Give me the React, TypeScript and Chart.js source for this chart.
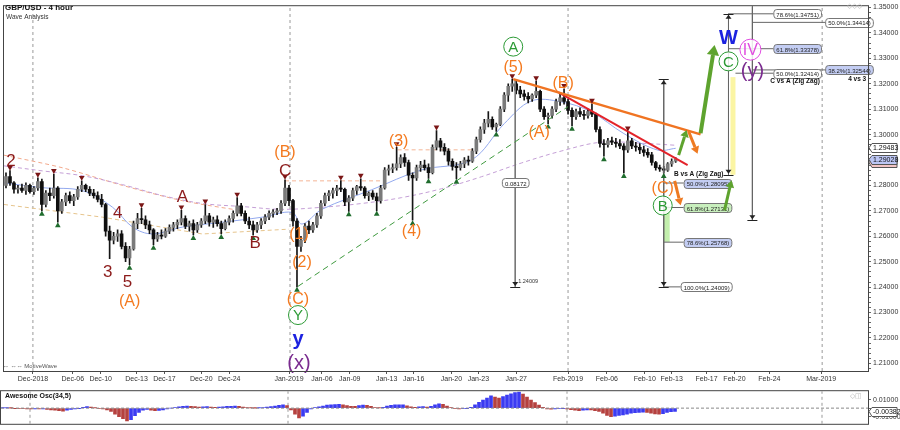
import React, { useEffect, useRef } from 'react';
import { Chart, registerables } from 'chart.js';
Chart.register(...registerables);

const FONT = 'Arial, "Liberation Sans", Helvetica, sans-serif';

// ---------- DATA (x unit = one 8-hour candle; ticks/dates placed on the same axis) ----------
// [open, high, low, close]
const candles: number[][] = [
  [1.2800,1.2850,1.2790,1.2835],[1.2835,1.2858,1.2800,1.2810],[1.2810,1.2815,1.2770,1.2785],[1.2785,1.2800,1.2770,1.2790],
  [1.2790,1.2805,1.2772,1.2780],[1.2780,1.2810,1.2765,1.2800],[1.2800,1.2805,1.2770,1.2775],[1.2775,1.2795,1.2765,1.2790],
  [1.2790,1.2830,1.2780,1.2815],[1.2815,1.2825,1.2700,1.2725],[1.2725,1.2780,1.2715,1.2770],[1.2770,1.2790,1.2740,1.2760],
  [1.2760,1.2845,1.2750,1.2790],[1.2790,1.2795,1.2655,1.2700],[1.2700,1.2745,1.2690,1.2735],[1.2735,1.2770,1.2720,1.2760],
  [1.2760,1.2775,1.2730,1.2740],[1.2740,1.2765,1.2720,1.2755],[1.2755,1.2795,1.2745,1.2785],[1.2785,1.2818,1.2775,1.2800],
  [1.2800,1.2805,1.2775,1.2785],[1.2785,1.2795,1.2760,1.2770],[1.2770,1.2785,1.2750,1.2760],[1.2760,1.2775,1.2735,1.2745],
  [1.2745,1.2765,1.2715,1.2725],[1.2725,1.2730,1.2600,1.2620],[1.2620,1.2640,1.2512,1.2585],[1.2585,1.2615,1.2570,1.2600],
  [1.2600,1.2625,1.2580,1.2610],[1.2610,1.2622,1.2550,1.2560],[1.2560,1.2575,1.2500,1.2515],[1.2515,1.2560,1.2488,1.2550],
  [1.2550,1.2660,1.2545,1.2650],[1.2650,1.2690,1.2630,1.2670],[1.2670,1.2710,1.2650,1.2665],[1.2665,1.2680,1.2630,1.2645],
  [1.2645,1.2660,1.2610,1.2625],[1.2625,1.2630,1.2566,1.2590],[1.2590,1.2615,1.2580,1.2605],[1.2605,1.2625,1.2590,1.2600],
  [1.2600,1.2630,1.2595,1.2620],[1.2620,1.2645,1.2610,1.2635],[1.2635,1.2655,1.2620,1.2645],[1.2645,1.2665,1.2630,1.2655],
  [1.2655,1.2702,1.2645,1.2670],[1.2670,1.2680,1.2630,1.2640],[1.2640,1.2660,1.2620,1.2650],[1.2650,1.2665,1.2605,1.2625],
  [1.2625,1.2655,1.2615,1.2645],[1.2645,1.2670,1.2635,1.2660],[1.2660,1.2725,1.2650,1.2680],[1.2680,1.2690,1.2640,1.2655],
  [1.2655,1.2675,1.2635,1.2665],[1.2665,1.2680,1.2640,1.2650],[1.2650,1.2660,1.2609,1.2630],[1.2630,1.2665,1.2625,1.2655],
  [1.2655,1.2680,1.2645,1.2670],[1.2670,1.2700,1.2655,1.2690],[1.2690,1.2752,1.2680,1.2720],[1.2720,1.2730,1.2680,1.2690],
  [1.2690,1.2700,1.2650,1.2660],[1.2660,1.2675,1.2630,1.2645],[1.2645,1.2660,1.2605,1.2625],[1.2625,1.2655,1.2615,1.2645],
  [1.2645,1.2670,1.2630,1.2660],[1.2660,1.2685,1.2650,1.2675],[1.2675,1.2700,1.2665,1.2690],[1.2690,1.2705,1.2675,1.2695],
  [1.2695,1.2710,1.2685,1.2700],[1.2700,1.2740,1.2690,1.2730],[1.2730,1.2822,1.2720,1.2790],[1.2790,1.2800,1.2720,1.2740],
  [1.2740,1.2745,1.2640,1.2660],[1.2660,1.2670,1.2401,1.2560],[1.2560,1.2600,1.2540,1.2585],[1.2585,1.2650,1.2575,1.2640],
  [1.2640,1.2660,1.2610,1.2625],[1.2625,1.2655,1.2615,1.2645],[1.2645,1.2690,1.2635,1.2680],[1.2680,1.2740,1.2670,1.2730],
  [1.2730,1.2770,1.2720,1.2760],[1.2760,1.2780,1.2740,1.2770],[1.2770,1.2790,1.2750,1.2780],[1.2780,1.2800,1.2760,1.2790],
  [1.2790,1.2819,1.2775,1.2785],[1.2785,1.2790,1.2720,1.2735],[1.2735,1.2760,1.2698,1.2750],[1.2750,1.2790,1.2740,1.2780],
  [1.2780,1.2800,1.2765,1.2795],[1.2795,1.2826,1.2780,1.2790],[1.2790,1.2795,1.2750,1.2760],[1.2760,1.2775,1.2740,1.2770],
  [1.2770,1.2780,1.2745,1.2755],[1.2755,1.2770,1.2700,1.2740],[1.2740,1.2800,1.2730,1.2790],[1.2790,1.2870,1.2785,1.2860],
  [1.2860,1.2880,1.2840,1.2865],[1.2865,1.2885,1.2850,1.2870],[1.2870,1.2950,1.2860,1.2885],[1.2885,1.2920,1.2870,1.2910],
  [1.2910,1.2925,1.2875,1.2890],[1.2890,1.2900,1.2820,1.2840],[1.2840,1.2850,1.2663,1.2830],[1.2830,1.2880,1.2820,1.2870],
  [1.2870,1.2895,1.2855,1.2880],[1.2880,1.2900,1.2860,1.2870],[1.2870,1.2885,1.2828,1.2850],[1.2850,1.2960,1.2845,1.2950],
  [1.2950,1.3016,1.2940,1.2975],[1.2975,1.2985,1.2935,1.2950],[1.2950,1.2965,1.2920,1.2935],[1.2935,1.2945,1.2880,1.2895],
  [1.2895,1.2905,1.2860,1.2875],[1.2875,1.2890,1.2826,1.2870],[1.2870,1.2895,1.2860,1.2885],[1.2885,1.2910,1.2870,1.2900],
  [1.2900,1.2915,1.2880,1.2895],[1.2895,1.2945,1.2890,1.2935],[1.2935,1.2990,1.2925,1.2980],[1.2980,1.3030,1.2970,1.3020],
  [1.3020,1.3060,1.3005,1.3045],[1.3045,1.3090,1.3030,1.3060],[1.3060,1.3070,1.3020,1.3030],[1.3030,1.3045,1.3012,1.3040],
  [1.3040,1.3110,1.3035,1.3100],[1.3100,1.3165,1.3090,1.3155],[1.3155,1.3200,1.3130,1.3190],[1.3190,1.3218,1.3170,1.3200],
  [1.3200,1.3210,1.3160,1.3175],[1.3175,1.3190,1.3145,1.3160],[1.3160,1.3175,1.3135,1.3150],[1.3150,1.3165,1.3125,1.3140],
  [1.3140,1.3160,1.3130,1.3155],[1.3155,1.3210,1.3145,1.3170],[1.3170,1.3175,1.3090,1.3100],[1.3100,1.3110,1.3060,1.3070],
  [1.3070,1.3085,1.3043,1.3075],[1.3075,1.3110,1.3065,1.3100],[1.3100,1.3140,1.3090,1.3130],[1.3130,1.3160,1.3115,1.3145],
  [1.3145,1.3179,1.3120,1.3130],[1.3130,1.3140,1.3080,1.3095],[1.3095,1.3105,1.3035,1.3070],[1.3070,1.3100,1.3060,1.3090],
  [1.3090,1.3105,1.3070,1.3080],[1.3080,1.3095,1.3060,1.3075],[1.3075,1.3100,1.3065,1.3090],[1.3090,1.3121,1.3070,1.3080],
  [1.3080,1.3085,1.3010,1.3020],[1.3020,1.3030,1.2950,1.2965],[1.2965,1.2980,1.2915,1.2960],[1.2960,1.2985,1.2950,1.2975],
  [1.2975,1.2990,1.2960,1.2970],[1.2970,1.2985,1.2950,1.2965],[1.2965,1.2980,1.2945,1.2955],[1.2955,1.2965,1.2849,1.2940],
  [1.2940,1.3012,1.2930,1.2975],[1.2975,1.2985,1.2945,1.2955],[1.2955,1.2970,1.2935,1.2950],[1.2950,1.2965,1.2925,1.2940],
  [1.2940,1.2955,1.2915,1.2930],[1.2930,1.2945,1.2910,1.2920],[1.2920,1.2930,1.2880,1.2890],[1.2890,1.2895,1.2860,1.2870],
  [1.2870,1.2880,1.2855,1.2865],[1.2865,1.2875,1.2849,1.2860],[1.2860,1.2890,1.2855,1.2885],[1.2885,1.2905,1.2875,1.2895],
  [1.2895,1.2910,1.2890,1.2903],
];

// Awesome Oscillator (34,5), one value per candle
const awesomeOsc: number[] = [
  0.0003,0.0003,0.0001,-0.0003,-0.0005,-0.0006,-0.0008,-0.0010,-0.0008,-0.0010,-0.0009,-0.0015,-0.0020,-0.0025,-0.0030,-0.0035,
  -0.0025,-0.0015,-0.0008,-0.0002,0.0010,0.0018,0.0012,0.0002,-0.0005,-0.0008,-0.0020,-0.0040,-0.0070,-0.0100,-0.0125,-0.0150,
  -0.0135,-0.0090,-0.0050,-0.0025,-0.0015,-0.0025,-0.0030,-0.0028,-0.0020,-0.0010,0.0000,0.0008,0.0015,0.0022,0.0025,0.0022,
  0.0018,0.0012,0.0015,0.0018,0.0012,0.0010,0.0012,0.0016,0.0020,0.0022,0.0024,0.0020,0.0012,0.0006,0.0002,0.0001,
  0.0003,0.0008,0.0012,0.0018,0.0025,0.0032,0.0040,0.0030,-0.0020,-0.0070,-0.0115,-0.0095,-0.0050,-0.0010,0.0005,0.0015,
  0.0025,0.0035,0.0040,0.0043,0.0045,0.0040,0.0030,0.0022,0.0020,0.0030,0.0035,0.0033,0.0020,0.0008,0.0002,0.0010,
  0.0025,0.0032,0.0038,0.0040,0.0040,0.0028,0.0015,0.0010,0.0015,0.0018,0.0013,0.0020,0.0040,0.0050,0.0045,0.0025,
  0.0005,-0.0005,-0.0008,-0.0006,-0.0003,0.0010,0.0040,0.0070,0.0095,0.0120,0.0145,0.0130,0.0120,0.0135,0.0155,0.0170,
  0.0185,0.0190,0.0165,0.0130,0.0095,0.0065,0.0035,0.0010,-0.0008,-0.0012,-0.0010,-0.0006,-0.0002,-0.0010,-0.0018,-0.0025,
  -0.0030,-0.0025,-0.0020,-0.0022,-0.0030,-0.0040,-0.0060,-0.0085,-0.0100,-0.0095,-0.0085,-0.0080,-0.0070,-0.0060,-0.0055,-0.0050,
  -0.0048,-0.0052,-0.0060,-0.0068,-0.0072,-0.0065,-0.0050,-0.0042,-0.0038,
];

const tickPos = [7.25,17.25,24.25,33.25,40.25,49.5,56.5,71.5,79.75,86.75,96,102.75,112.25,119,128.5,141.5,151.25,160.75,167.5,176.25,183.25,192,205];
const tickLabels = ['Dec-2018','Dec-06','Dec-10','Dec-13','Dec-17','Dec-20','Dec-24','Jan-2019','Jan-06','Jan-09','Jan-13','Jan-16','Jan-20','Jan-23','Jan-27','Feb-2019','Feb-06','Feb-10','Feb-13','Feb-17','Feb-20','Feb-24','Mar-2019'];
const monthPos = [7.25, 71.75, 141.5, 205.25];

const peakIdx = [1,8,12,19,34,44,50,58,70,84,89,98,108,127,133,140,147,156];
const troughIdx = [9,13,31,37,47,54,62,73,86,93,102,106,113,123,136,142,150,155,165];

// moving averages / channel lines: [x, price]
const maSlow = [[0,1.2877],[9.75,1.2857],[19.75,1.2838],[29.75,1.2803],[39.75,1.2760],[49.75,1.2729],[59.75,1.2717],[69.75,1.2706],[79.75,1.2714],[89.75,1.2729],[99.75,1.2752],[109.75,1.2787],[119.75,1.2834],[129.75,1.2888],[139.75,1.2935],[149.75,1.2970],[159.75,1.2966],[168.5,1.2958]];
const maFast = [[0,1.2810],[9.75,1.2791],[19.75,1.2779],[27.25,1.2714],[32.25,1.2636],[37.25,1.2609],[44.75,1.2636],[54.75,1.2655],[64.75,1.2675],[72.25,1.2694],[74.75,1.2648],[79.75,1.2706],[92.25,1.2783],[104.75,1.2861],[117.25,1.2900],[125.5,1.3043],[132.25,1.3132],[139.75,1.3129],[147.25,1.3090],[155.5,1.3004],[164,1.2939],[168.5,1.2946]];
const maMid = [[0,1.2919],[14.75,1.2869],[29.75,1.2800],[44.75,1.2740],[59.75,1.2700]];
const channelLow = [[0,1.2725],[24.75,1.2675],[49.75,1.2609],[71.5,1.2628]];
const levelLines = [[70.5,95,1.2818],[98.75,117.5,1.2940]];
const greenTrend = [[73.75,1.2403],[141.5,1.3110]];
const orangeTrend = [[127.75,1.3218],[174.75,1.3001]];
const redTrend = [[139,1.3167],[171.5,1.2880]];

// Fibonacci studies
const waveAHigh = 1.32181, waveCLow = 1.24009;
const fibBA = [['50.0%', 1.28095, 'b'], ['61.8%', 1.27131, 'g'], ['78.6%', 1.25768, 'b'], ['100.0%', 1.24009, 'w']];
const fibCA = [['78.6%', 1.34751, 'w'], ['61.8%', 1.33378, 'b'], ['50.0%', 1.32414, 'w']];
const fib43 = [['50.0%', 1.34414, 'w'], ['38.2%', 1.32544, 'b']];
const measureLabel = '0.08172';

// wave labels: [text, x, price, kind]
const waveLabels: [string, number, number, string][] = [
  ['2',1.75,1.2900,'red'],['4',28.5,1.2694,'red'],['3',26,1.2462,'red'],['5',31,1.2423,'red'],['(A)',31.5,1.2345,'orange'],
  ['A',44.75,1.2756,'red'],['B',63,1.2578,'red'],['C',70.5,1.2861,'red'],['(B)',70.5,1.2935,'orange'],
  ['(1)',74,1.2612,'orange'],['(2)',74.75,1.2500,'orange'],['(C)',73.75,1.2356,'orange'],['Y',73.75,1.2290,'green'],
  ['y',73.75,1.2197,'blue'],['(x)',74,1.2104,'purple'],['(3)',99,1.2978,'orange'],['(4)',102.25,1.2624,'orange'],
  ['A',127.75,1.3346,'green'],['(5)',127.75,1.3268,'orange'],['(A)',134.25,1.3012,'orange'],['(B)',140.25,1.3206,'orange'],
  ['(C)',165.25,1.2791,'orange'],['B',165.25,1.2721,'green'],['W',181.75,1.3381,'blue'],['C',181.75,1.3288,'green'],
  ['IV',187.25,1.3334,'magenta'],['(y)',187.75,1.3253,'purple'],
];
// projection arrows: [x1, p1, x2, p2, kind]
const arrows: [number, number, number, number, string][] = [
  [168.25,1.2818,169.75,1.2722,'o'],[169.25,1.2919,171.25,1.3018,'g'],[171.75,1.3012,174,1.2925,'o'],
  [174.75,1.3005,178.25,1.3352,'G'],[180.75,1.2702,182.5,1.2820,'g'],
];

const Y_MIN = 1.2070, Y_MAX = 1.3505, X_MIN = 0, X_MAX = 216.75;
const O_MIN = -0.0185, O_MAX = 0.0200;
const lastPrice = 1.29028, tagPrice = 1.29483, lastOsc = -0.00382;

// ---------- helpers ----------
const seg = (pts: number[][], color: string, width: number, dash: number[] = [], order = 3, tension = 0) => ({
  type: 'line', data: pts.map(([x, y]) => ({ x, y })), borderColor: color, borderWidth: width, borderDash: dash,
  pointRadius: 0, fill: false, tension, order,
});

function rr(ctx: any, x: number, y: number, w: number, h: number, r: number) {
  ctx.beginPath(); ctx.moveTo(x + r, y); ctx.arcTo(x + w, y, x + w, y + h, r); ctx.arcTo(x + w, y + h, x, y + h, r);
  ctx.arcTo(x, y + h, x, y, r); ctx.arcTo(x, y, x + w, y, r); ctx.closePath();
}
const BG: any = { b: '#c3cdf3', g: '#c8efbd', w: '#ffffff' };
function box(ctx: any, text: string, x: number, y: number, bg: string, align = 'left') {
  ctx.font = `6px ${FONT}`;
  const w = ctx.measureText(text).width + 5;
  const x0 = align === 'center' ? x - w / 2 : x;
  rr(ctx, x0 + 0.5, Math.round(y - 4.5) + 0.5, w, 9, 3);
  ctx.fillStyle = BG[bg] || bg; ctx.fill(); ctx.strokeStyle = '#777'; ctx.lineWidth = 1; ctx.stroke();
  ctx.fillStyle = '#222'; ctx.textAlign = 'left'; ctx.textBaseline = 'middle'; ctx.fillText(text, x0 + 3, Math.round(y) + 1);
}
function arrow(ctx: any, x1: number, y1: number, x2: number, y2: number, color: string, w: number, head: number) {
  const a = Math.atan2(y2 - y1, x2 - x1);
  const bx = x2 - head * Math.cos(a), by = y2 - head * Math.sin(a);
  ctx.strokeStyle = color; ctx.lineWidth = w; ctx.lineCap = 'butt';
  ctx.beginPath(); ctx.moveTo(x1, y1); ctx.lineTo(bx, by); ctx.stroke();
  const hw = head * 0.62;
  ctx.fillStyle = color; ctx.beginPath(); ctx.moveTo(x2, y2);
  ctx.lineTo(bx + hw * Math.sin(a), by - hw * Math.cos(a)); ctx.lineTo(bx - hw * Math.sin(a), by + hw * Math.cos(a));
  ctx.closePath(); ctx.fill();
}
function tmark(ctx: any, x: number, y: number, top: boolean) {
  ctx.strokeStyle = '#222'; ctx.lineWidth = 1;
  ctx.beginPath(); ctx.moveTo(x - 5, Math.round(y) + 0.5); ctx.lineTo(x + 5, Math.round(y) + 0.5); ctx.stroke();
  ctx.fillStyle = '#222'; ctx.beginPath();
  if (top) { ctx.moveTo(x, y + 1); ctx.lineTo(x - 3, y + 5); ctx.lineTo(x + 3, y + 5); }
  else { ctx.moveTo(x, y - 1); ctx.lineTo(x - 3, y - 5); ctx.lineTo(x + 3, y - 5); }
  ctx.closePath(); ctx.fill();
}
function tag(ctx: any, text: string, y: number, x: number, bg: string) {
  ctx.font = `7px ${FONT}`;
  const w = 28, h = 9, yy = Math.round(y - h / 2) + 0.5;
  ctx.beginPath(); ctx.moveTo(x, y); ctx.lineTo(x + 3, yy); ctx.lineTo(x + w, yy); ctx.lineTo(x + w, yy + h); ctx.lineTo(x + 3, yy + h); ctx.closePath();
  ctx.fillStyle = bg; ctx.fill(); ctx.strokeStyle = '#555'; ctx.lineWidth = 1; ctx.stroke();
  ctx.fillStyle = '#111'; ctx.textAlign = 'left'; ctx.textBaseline = 'middle'; ctx.fillText(text, x + 4, y + 0.5);
}

const LBL: any = {
  red: { c: '#8c1b1b', f: `17px ${FONT}` },
  orange: { c: '#f47a1f', f: `16px ${FONT}` },
  green: { c: '#2c9a35', f: `15px ${FONT}`, r: 9.5 },
  blue: { c: '#1c22e0', f: `bold 20px ${FONT}` },
  purple: { c: '#7a2b8f', f: `20px ${FONT}` },
  magenta: { c: '#e04ce0', f: `16px ${FONT}`, r: 10.5 },
};
const ARW: any = { o: ['#ee7a22', 3, 7], g: ['#5ea32e', 3, 7], G: ['#5ea32e', 4, 10] };

const mainPlugin = {
  id: 'mainAnnot',
  beforeDatasetsDraw(chart: any) {
    const { ctx } = chart; const x = chart.scales.x, y = chart.scales.y;
    ctx.save();
    const zones = [[182.25, 183.5, 1.3226, 1.2842, '#fbf5a3'], [165.5, 167, 1.2721, 1.2578, '#c3efad']];
    zones.forEach((z: any) => {
      const x1 = x.getPixelForValue(z[0]), x2 = x.getPixelForValue(z[1]);
      const y1 = y.getPixelForValue(z[2]), y2 = y.getPixelForValue(z[3]);
      ctx.fillStyle = z[4]; ctx.fillRect(x1, y1, x2 - x1, y2 - y1);
    });
    ctx.restore();
  },
  afterDatasetsDraw(chart: any) {
    const { ctx } = chart; const x = chart.scales.x, y = chart.scales.y;
    const X = (v: number) => x.getPixelForValue(v), Y = (v: number) => y.getPixelForValue(v);
    ctx.save();
    fibBA.forEach((f: any) => box(ctx, `${f[0]}(${f[1].toFixed(5)})`, X(f[0] === '100.0%' ? 169.75 : 170.5), Y(f[1]), f[2]));
    fibCA.forEach((f: any) => box(ctx, `${f[0]}(${f[1].toFixed(5)})`, X(193), Y(f[1]), f[2]));
    fib43.forEach((f: any) => box(ctx, `${f[0]}(${f[1].toFixed(5)})`, X(206), Y(f[1]), f[2]));
    box(ctx, measureLabel, X(128.25), Y(1.2810), 'w', 'center');
    ctx.font = `5.5px ${FONT}`; ctx.fillStyle = '#333'; ctx.textAlign = 'left'; ctx.textBaseline = 'middle';
    ctx.fillText(waveCLow.toFixed(5), X(129), Y(1.2423));
    ctx.font = `bold 6.5px ${FONT}`; ctx.fillStyle = '#111';
    ctx.textAlign = 'right'; ctx.fillText('B vs A (Zig Zag)', X(180.5), Y(1.2845));
    ctx.textAlign = 'left'; ctx.fillText('C vs A (Zig Zag)', X(192.25), Y(1.3208));
    ctx.textAlign = 'right'; ctx.fillText('4 vs 3', X(216.3), Y(1.3216));
    tmark(ctx, X(128.25), Y(waveCLow), false);
    tmark(ctx, X(165.5), Y(waveAHigh), true);
    tmark(ctx, X(165.5), Y(waveCLow), false);
    tmark(ctx, X(181.75), Y(1.34751), true);
    tmark(ctx, X(181.75), Y(1.2842), false);
    tmark(ctx, X(187.75), Y(1.2663), false);
    arrows.forEach((a) => { const s = ARW[a[4]]; arrow(ctx, X(a[0]), Y(a[1]), X(a[2]), Y(a[3]), s[0], s[1], s[2]); });
    waveLabels.forEach(([t, vx, vp, k]) => {
      const s = LBL[k]; const px = X(vx), py = Y(vp);
      if (s.r) {
        ctx.beginPath(); ctx.arc(px, py, s.r, 0, Math.PI * 2);
        ctx.fillStyle = 'rgba(255,255,255,0.85)'; ctx.fill();
        ctx.strokeStyle = s.c; ctx.lineWidth = 1; ctx.stroke();
      }
      ctx.font = s.f; ctx.fillStyle = s.c; ctx.textAlign = 'center'; ctx.textBaseline = 'middle';
      ctx.fillText(t, px, py + 1);
    });
    ctx.restore();
  },
  afterDraw(chart: any) {
    const { ctx, chartArea: a } = chart; const y = chart.scales.y;
    ctx.save();
    ctx.strokeStyle = '#444'; ctx.lineWidth = 1;
    ctx.strokeRect(a.left - 0.5, a.top - 0.5, a.right - a.left + 1, a.bottom - a.top + 1);
    ctx.fillStyle = '#111'; ctx.textAlign = 'left'; ctx.textBaseline = 'middle';
    ctx.font = `bold 8px ${FONT}`; ctx.fillText('GBP/USD - 4 hour', 5, 8);
    ctx.font = `6.5px ${FONT}`; ctx.fillStyle = '#333'; ctx.fillText('Wave Analysis', 6, 17);
    ctx.font = `6px ${FONT}`; ctx.fillStyle = '#555'; ctx.fillText('⇔ ⇔⇔ MotiveWave', 3, a.bottom - 5);
    ctx.fillStyle = '#bbb'; ctx.font = `7px ${FONT}`; ctx.textAlign = 'right'; ctx.fillText('◇◇◇', a.right - 6, 6);
    tag(ctx, '', y.getPixelForValue(lastPrice) + 3.5, a.right + 1, '#f2c4c4');
    tag(ctx, tagPrice.toFixed(5), y.getPixelForValue(tagPrice), a.right + 1, '#ffffff');
    tag(ctx, lastPrice.toFixed(5), y.getPixelForValue(lastPrice), a.right + 1, '#bcc6f4');
    ctx.restore();
  },
};

const oscPlugin = {
  id: 'oscAnnot',
  afterDraw(chart: any) {
    const { ctx, chartArea: a } = chart; const y = chart.scales.y;
    ctx.save();
    ctx.strokeStyle = '#444'; ctx.lineWidth = 1;
    ctx.strokeRect(a.left - 0.5, a.top - 0.5, a.right - a.left + 1, a.bottom - a.top + 1);
    ctx.font = `bold 7px ${FONT}`; ctx.fillStyle = '#111'; ctx.textAlign = 'left'; ctx.textBaseline = 'middle';
    ctx.fillText('Awesome Osc(34,5)', 5, a.top + 5);
    ctx.fillStyle = '#bbb'; ctx.font = `7px ${FONT}`; ctx.textAlign = 'right'; ctx.fillText('◇◫', a.right - 6, a.top + 5);
    tag(ctx, lastOsc.toFixed(5), y.getPixelForValue(lastOsc), a.right + 1, '#ffffff');
    ctx.restore();
  },
};

export default function App() {
  const mainRef = useRef<HTMLCanvasElement>(null);
  const oscRef = useRef<HTMLCanvasElement>(null);

  useEffect(() => {
    document.body.style.margin = '0';
    document.body.style.background = '#fff';
    Chart.defaults.font.family = FONT;

    const cx = (i: number) => i + 0.5;
    const wicks = candles.map((c, i) => ({ x: cx(i), y: [c[2], c[1]] }));
    const bodies = candles.map((c, i) => ({ x: cx(i), y: [Math.min(c[0], c[3]), Math.max(c[0], c[3])] }));
    const bodyColors = candles.map((c) => (c[3] >= c[0] ? '#7a7a7a' : '#0f0f0f'));
    const peaks = peakIdx.map((i) => ({ x: cx(i), y: candles[i][1] + 0.0013 }));
    const troughs = troughIdx.map((i) => ({ x: cx(i), y: candles[i][2] - 0.0013 }));

    const measure: any[] = [
      seg([[128.25, waveAHigh], [128.25, waveCLow]], '#777', 1, [], 2),
      seg([[165.5, waveAHigh], [165.5, waveCLow]], '#666', 1, [], 2),
      seg([[181.75, 1.34751], [181.75, 1.2842]], '#666', 1, [], 2),
      seg([[187.75, Y_MAX], [187.75, 1.2663]], '#666', 1, [], 2),
      ...fibBA.map((f: any) => seg([[165.5, f[1]], [f[0] === '100.0%' ? 169.75 : 170.5, f[1]]], '#666', 1, [], 2)),
      ...fibCA.map((f: any, k: number) => seg([[k === 2 ? 183.5 : 181.75, f[1]], [193, f[1]]], '#666', 1, [], 2)),
      ...fib43.map((f: any) => seg([[187.75, f[1]], [206, f[1]]], '#666', 1, [], 2)),
    ];

    const main = new Chart(mainRef.current as any, {
      type: 'bar',
      data: {
        datasets: [
          { type: 'scatter', data: peaks, pointStyle: 'triangle', rotation: 180, pointRadius: 3.3, backgroundColor: '#7a1616', borderWidth: 0, order: 0 } as any,
          { type: 'scatter', data: troughs, pointStyle: 'triangle', pointRadius: 3.3, backgroundColor: '#1f6c2d', borderWidth: 0, order: 0 } as any,
          seg(orangeTrend, '#f07422', 2.5, [], 1),
          seg(redTrend, '#e3232a', 2, [], 1),
          seg(greenTrend, '#3f9a3f', 1, [6, 4], 1),
          ...measure,
          { type: 'bar', data: bodies, backgroundColor: bodyColors, barThickness: 3, grouped: false, minBarLength: 1, order: 5 } as any,
          { type: 'bar', data: wicks, backgroundColor: '#151515', barThickness: 1, grouped: false, order: 6 } as any,
          seg(maFast, '#93a9ee', 1, [], 8, 0.35),
          seg(maSlow, '#c49fd6', 1, [4, 3], 8, 0.35),
          seg(maMid, '#f2a98c', 1, [4, 3], 8, 0.3),
          seg(channelLow, '#e6c48c', 1, [4, 3], 8, 0),
          ...levelLines.map((l) => seg([[l[0], l[2]], [l[1], l[2]]], '#f4b596', 1, [4, 3], 8)),
          ...monthPos.map((m) => seg([[m, Y_MIN], [m, Y_MAX]], '#9a9a9a', 1, [3, 3], 20)),
        ],
      },
      options: {
        responsive: false, animation: false,
        layout: { padding: { top: 1, left: 1, right: 0, bottom: 0 } },
        plugins: { legend: { display: false }, tooltip: { enabled: false } },
        scales: {
          x: {
            type: 'linear', min: X_MIN, max: X_MAX, offset: false,
            grid: { display: true, drawOnChartArea: false, tickLength: 3, color: '#555', offset: false },
            border: { display: true, color: '#444' },
            ticks: { autoSkip: false, maxRotation: 0, font: { size: 7, family: FONT }, color: '#333', padding: 1,
              callback: (_v: any, i: number) => tickLabels[i] ?? '' },
            afterBuildTicks: (s: any) => { s.ticks = tickPos.map((v) => ({ value: v })); },
            afterFit: (s: any) => { s.height = 14; },
          },
          y: {
            type: 'linear', position: 'right', min: Y_MIN, max: Y_MAX, beginAtZero: false,
            grid: { display: true, drawOnChartArea: false, tickLength: 3, color: '#666' },
            border: { display: true, color: '#444' },
            ticks: { autoSkip: false, font: { size: 7, family: FONT }, color: '#333', padding: 2,
              callback: (v: any) => { const r = Math.round(v * 100); return Math.abs(v * 100 - r) < 1e-6 ? Number(v).toFixed(5) : ''; } },
            afterBuildTicks: (s: any) => { const t = []; for (let k = 0; k <= 71; k++) t.push({ value: +(1.208 + k * 0.002).toFixed(3) }); s.ticks = t; },
            afterFit: (s: any) => { s.width = 32; },
          },
        },
      } as any,
      plugins: [mainPlugin],
    });

    const oscColors = awesomeOsc.map((v, i) => (i === 0 || v >= awesomeOsc[i - 1] ? '#3b3bf2' : '#b5413f'));
    const osc = new Chart(oscRef.current as any, {
      type: 'bar',
      data: {
        datasets: [
          seg([[X_MIN, 0], [X_MAX, 0]], '#888', 1, [3, 2], 0),
          { type: 'bar', data: awesomeOsc.map((v, i) => ({ x: cx(i), y: v })), backgroundColor: oscColors, barThickness: 3, grouped: false, order: 2 } as any,
          ...monthPos.map((m) => seg([[m, O_MIN], [m, O_MAX]], '#9a9a9a', 1, [3, 3], 20)),
        ],
      },
      options: {
        responsive: false, animation: false,
        layout: { padding: { top: 2, left: 1, right: 0, bottom: 2 } },
        plugins: { legend: { display: false }, tooltip: { enabled: false } },
        scales: {
          x: { type: 'linear', min: X_MIN, max: X_MAX, offset: false, display: false },
          y: {
            type: 'linear', position: 'right', min: O_MIN, max: O_MAX, beginAtZero: false,
            grid: { display: true, drawOnChartArea: false, tickLength: 3, color: '#666' },
            border: { display: true, color: '#444' },
            ticks: { autoSkip: false, font: { size: 7, family: FONT }, color: '#333', padding: 2,
              callback: (v: any) => (Math.abs(v) < 1e-9 ? '' : Number(v).toFixed(5)) },
            afterBuildTicks: (s: any) => { s.ticks = [0.01, 0, -0.01].map((v) => ({ value: v })); },
            afterFit: (s: any) => { s.width = 32; },
          },
        },
      } as any,
      plugins: [oscPlugin],
    });

    return () => { main.destroy(); osc.destroy(); };
  }, []);

  return (
    <div style={{ width: 900, height: 430, background: '#fff', overflow: 'hidden' }}>
      <canvas ref={mainRef} width={900} height={385} style={{ display: 'block' }} />
      <canvas ref={oscRef} width={900} height={45} style={{ display: 'block' }} />
    </div>
  );
}
